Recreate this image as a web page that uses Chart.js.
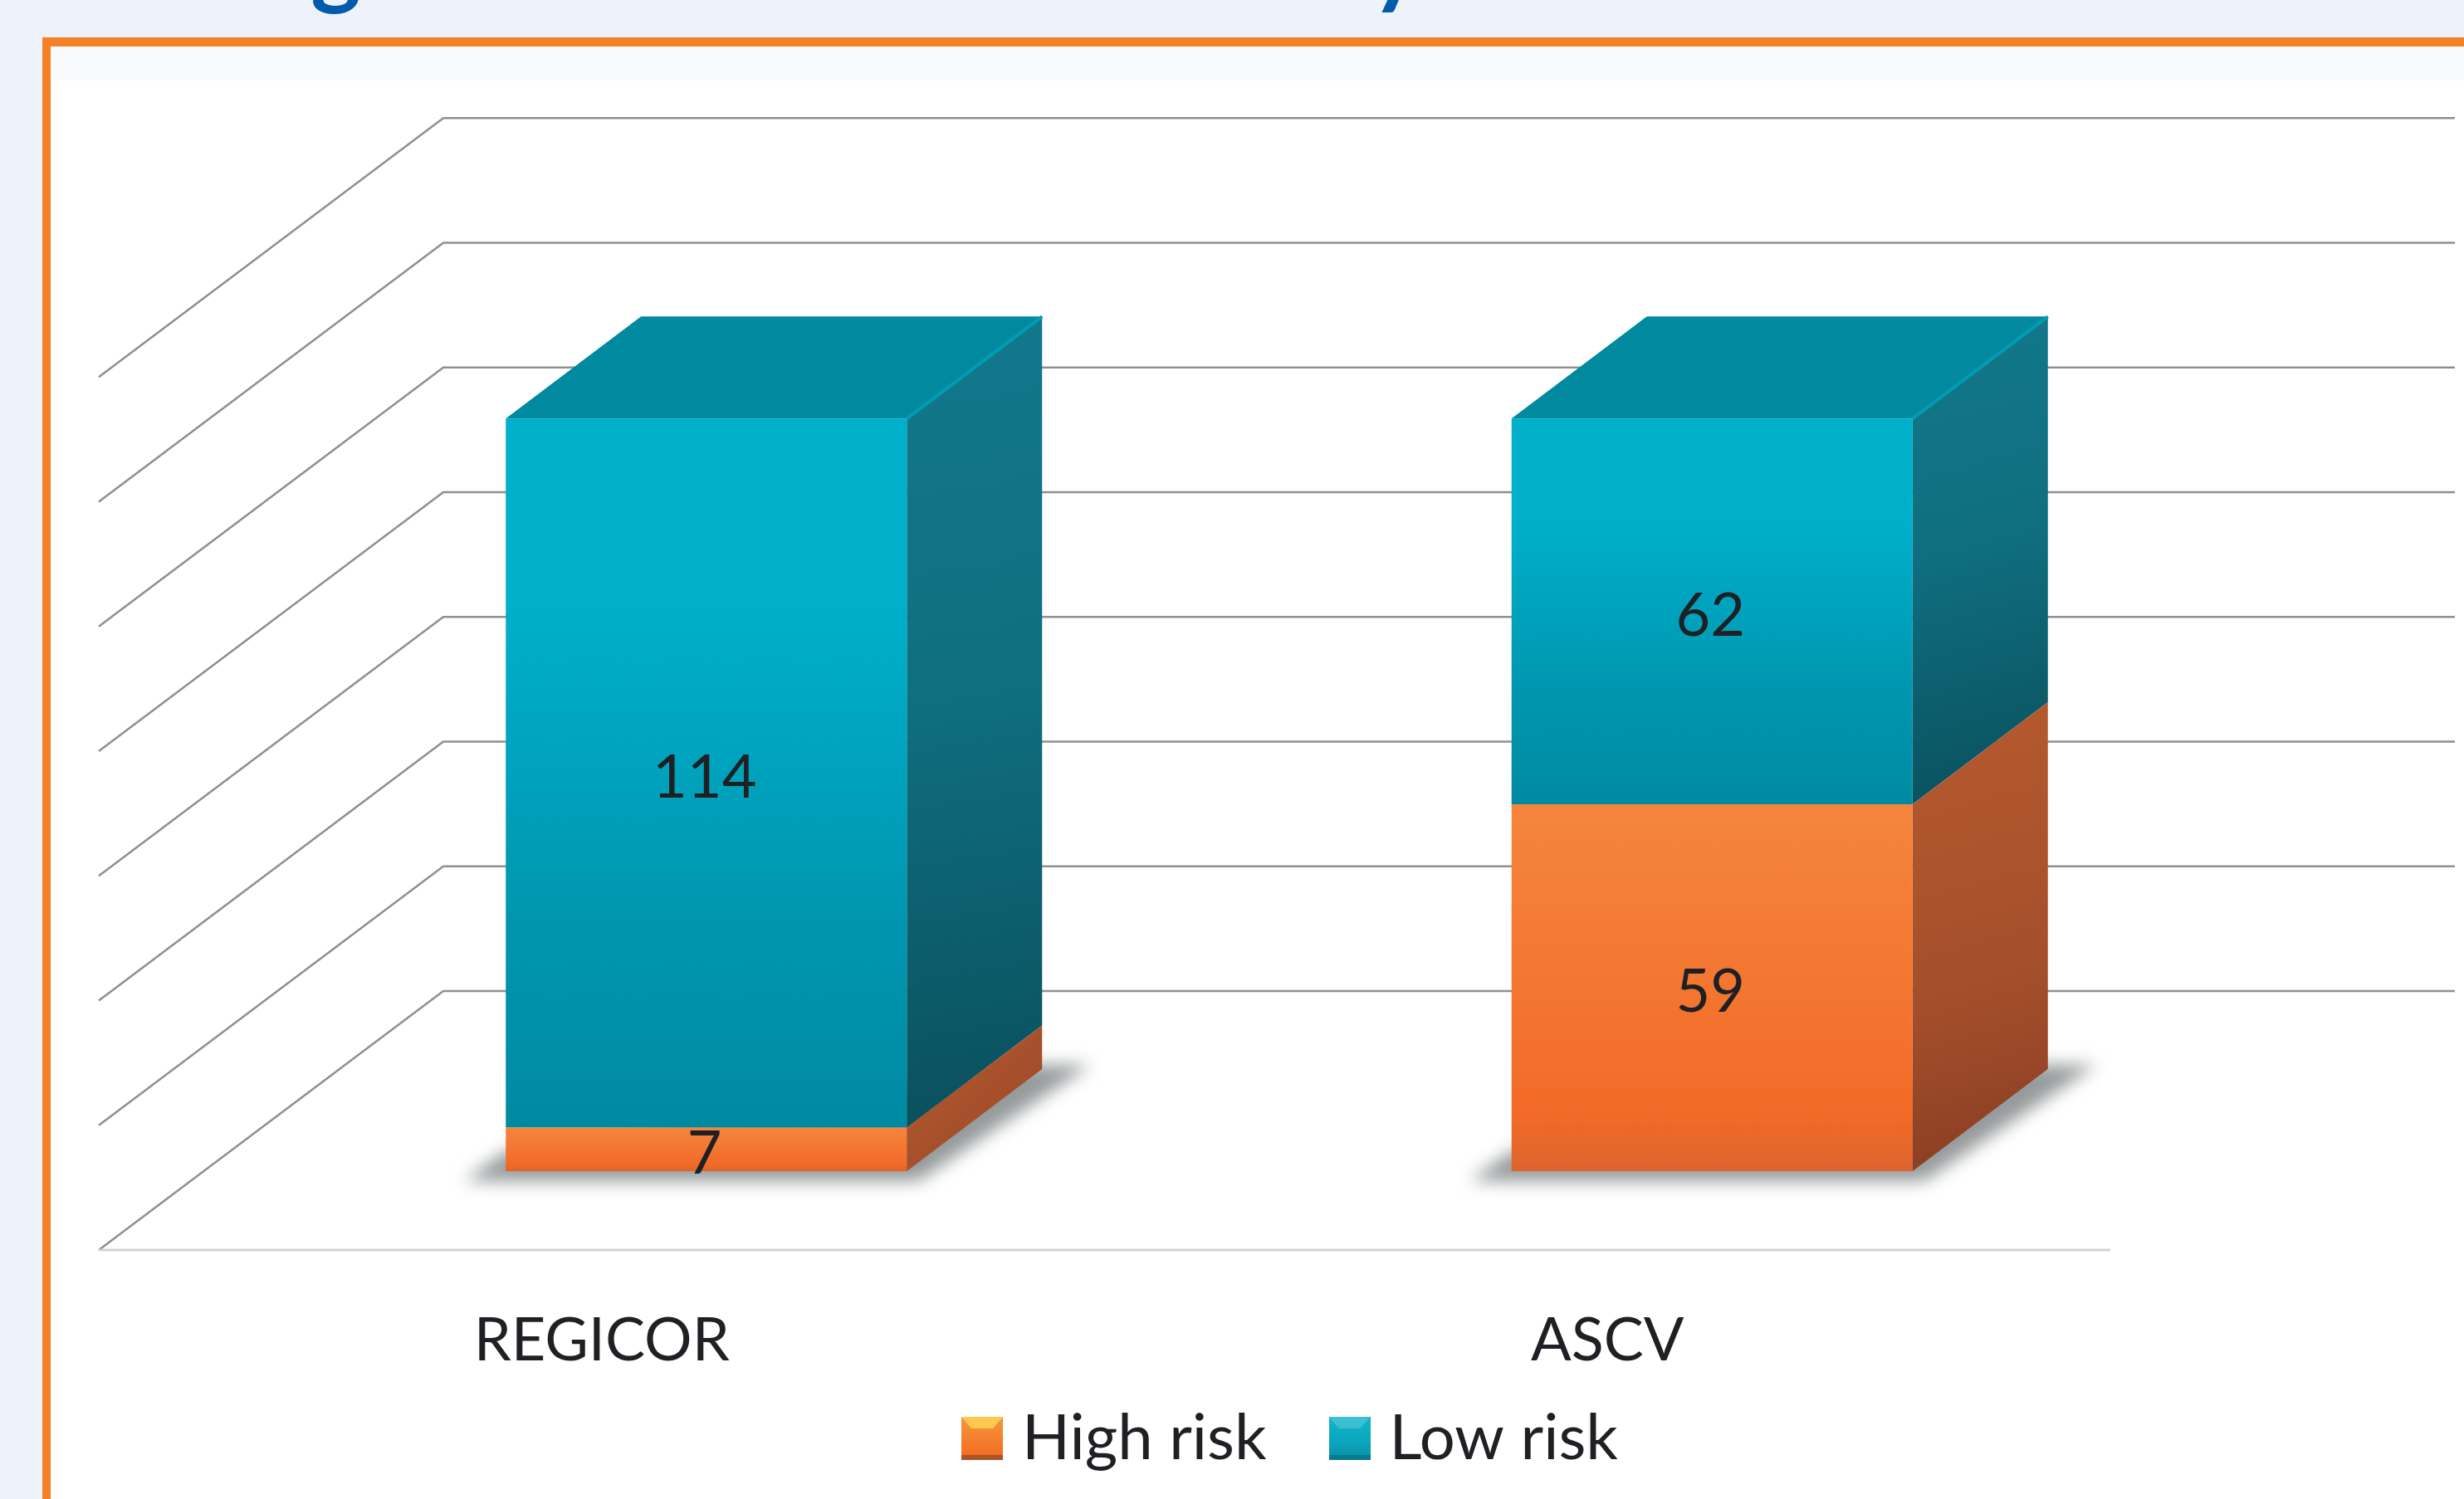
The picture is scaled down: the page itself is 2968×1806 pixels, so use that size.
<!DOCTYPE html>
<html>
<head>
<meta charset="utf-8">
<style>
html,body{margin:0;padding:0;width:2968px;height:1806px;overflow:hidden;background:#eef2fa;}
#title{position:absolute;left:280px;top:-118px;font:700 115px Lato,sans-serif;color:#005bac;white-space:nowrap;letter-spacing:0;}
#frame{position:absolute;left:51px;top:45px;width:2960px;height:1800px;box-sizing:border-box;border-left:10px solid #f58025;border-top:11px solid #f58025;background:#fff;}
#band{position:absolute;left:61px;top:56px;width:2907px;height:41px;background:#f7f9fc;}
canvas{position:absolute;left:0;top:0;}
</style>
<script src="https://cdn.jsdelivr.net/npm/chart.js@4/dist/chart.umd.js"></script>
</head>
<body>
<div id="title">Figure 1. Risk score of study.</div>
<div id="frame"></div>
<div id="band"></div>
<canvas id="c" width="2968" height="1806"></canvas>
<script>
const categories = ['REGICOR', 'ASCV'];
const highRisk = [7, 59];
const lowRisk = [114, 62];
const seriesNames = ['High risk', 'Low risk'];
const tickStep = 20;
const axisMax = 140;

const FONT = 'Lato, sans-serif';
const depthX = 163, depthY = 123;         // bar depth
const wallX = 415, wallY = 312;           // side wall depth
const backLift = 217;                     // back wall above bar base
const backStretch = 150.4 / 150;

function faceGradient(ctx, top, bottom, stops) {
  const g = ctx.createLinearGradient(0, top, 0, bottom);
  stops.forEach(s => g.addColorStop(s[0], s[1]));
  return g;
}
const orangeStops = [[0, '#f5853e'], [0.55, '#f3742f'], [0.85, '#f26a27'], [1, '#dc6430']];
const tealStops = [[0, '#00afca'], [0.25, '#00b0cb'], [0.7, '#0096b0'], [1, '#008aa2']];

function barFill(stops, valuesBelow, values) {
  return function (c) {
    const s = c.chart.scales.y;
    if (!s || c.dataIndex === undefined) return stops[0][1];
    const b = valuesBelow ? valuesBelow[c.dataIndex] : 0;
    const t = s.getPixelForValue(b + values[c.dataIndex]), e = s.getPixelForValue(b);
    if (!Number.isFinite(t) || !Number.isFinite(e)) return stops[0][1];
    return faceGradient(c.chart.ctx, t, e, stops);
  };
}

function swatch(stops, light, dark) {
  const cv = document.createElement('canvas');
  cv.width = 50; cv.height = 52;
  const x = cv.getContext('2d');
  x.fillStyle = faceGradient(x, 0, 52, stops); x.fillRect(0, 0, 50, 52);
  x.fillStyle = light;
  x.beginPath(); x.moveTo(0, 0); x.lineTo(50, 0); x.lineTo(38, 14); x.lineTo(12, 14); x.fill();
  x.fillStyle = dark; x.fillRect(0, 46, 50, 6);
  return cv;
}
const swatches = [
  swatch([[0, '#f8963c'], [1, '#f16a22']], 'rgba(255,220,90,0.75)', '#a8552a'),
  swatch([[0, '#12b6cc'], [0.6, '#0aa5bd'], [1, '#0a8ea6']], 'rgba(90,200,215,0.6)', '#067a8c')
];

const depthPlugin = {
  id: 'depth',
  afterLayout(chart) {
    const lg = chart.legend;
    const dx = 1561 - (lg.left + lg.right) / 2;
    lg.left += dx; lg.right += dx;
    const h = lg.bottom - lg.top;
    lg.top = 1733 - 38 - lg.options.labels.padding;
    lg.bottom = lg.top + h;
  },
  beforeDatasetsDraw(chart) {
    const { ctx, scales: { y } } = chart;
    const base = y.getPixelForValue(0);
    const backLeft = 534, backRight = 2957;
    ctx.save();
    // grid on the back and left walls
    ctx.strokeStyle = '#8e9090';
    ctx.lineWidth = 2.6;
    y.ticks.forEach(t => {
      const by = base - backLift - (base - y.getPixelForValue(t.value)) * backStretch;
      ctx.beginPath();
      ctx.moveTo(backLeft - wallX, by + wallY);
      ctx.lineTo(backLeft, by);
      ctx.lineTo(backRight, by);
      ctx.stroke();
    });
    // floor front edge
    ctx.strokeStyle = '#d2d3d3';
    ctx.lineWidth = 3;
    ctx.beginPath();
    ctx.moveTo(backLeft - wallX, base + 95);
    ctx.lineTo(2542, base + 95);
    ctx.stroke();

    const low = chart.getDatasetMeta(1).data;
    const high = chart.getDatasetMeta(0).data;
    low.forEach((topEl, i) => {
      const L = topEl.x - topEl.width / 2, R = topEl.x + topEl.width / 2;
      const hEl = high[i];
      const yTop = topEl.y, yMid = hEl.y, yBase = hEl.base;
      // floor shadow
      ctx.save();
      ctx.filter = 'blur(10px)';
      ctx.fillStyle = '#959a9b';
      ctx.beginPath();
      ctx.moveTo(L - 50, yBase + 12);
      ctx.lineTo(R + 14, yBase + 12);
      ctx.lineTo(R + depthX + 58, yBase - depthY - 5);
      ctx.lineTo(R + depthX - 10, yBase - depthY - 5);
      ctx.lineTo(L, yBase - 24);
      ctx.closePath();
      ctx.fill();
      ctx.restore();
      // right faces
      const sideLow = ctx.createLinearGradient(R, yTop - depthY, R + depthX, yMid);
      sideLow.addColorStop(0, '#12788c'); sideLow.addColorStop(0.45, '#0f6f80'); sideLow.addColorStop(1, '#0a4f5c');
      ctx.fillStyle = sideLow;
      ctx.beginPath();
      ctx.moveTo(R, yTop); ctx.lineTo(R + depthX, yTop - depthY);
      ctx.lineTo(R + depthX, yMid - depthY); ctx.lineTo(R, yMid); ctx.closePath(); ctx.fill();
      const sideHigh = ctx.createLinearGradient(R, yMid - depthY, R + depthX, yBase);
      sideHigh.addColorStop(0, '#b65a2f'); sideHigh.addColorStop(0.6, '#a44f2b'); sideHigh.addColorStop(1, '#883c22');
      ctx.fillStyle = sideHigh;
      ctx.beginPath();
      ctx.moveTo(R, yMid); ctx.lineTo(R + depthX, yMid - depthY);
      ctx.lineTo(R + depthX, yBase - depthY); ctx.lineTo(R, yBase); ctx.closePath(); ctx.fill();
      // top face
      ctx.fillStyle = '#00899f';
      ctx.beginPath();
      ctx.moveTo(L, yTop); ctx.lineTo(L + depthX, yTop - depthY);
      ctx.lineTo(R + depthX, yTop - depthY); ctx.lineTo(R, yTop); ctx.closePath(); ctx.fill();
      ctx.strokeStyle = '#019bb2';
      ctx.lineWidth = 4;
      ctx.beginPath(); ctx.moveTo(R, yTop); ctx.lineTo(R + depthX, yTop - depthY); ctx.stroke();
    });
    ctx.restore();
  },
  afterDatasetsDraw(chart) {
    const { ctx } = chart;
    ctx.save();
    ctx.font = '72px ' + FONT;
    ctx.fillStyle = '#1e2024';
    ctx.textAlign = 'center';
    ctx.textBaseline = 'middle';
    chart.data.datasets.forEach((ds, d) => {
      chart.getDatasetMeta(d).data.forEach((el, i) => {
        ctx.fillText(String(ds.data[i]), el.x - 2, (el.y + el.base) / 2 + 6);
      });
    });
    ctx.restore();
  }
};

new Chart(document.getElementById('c'), {
  type: 'bar',
  data: {
    labels: categories,
    datasets: [
      { label: seriesNames[0], data: highRisk, backgroundColor: barFill(orangeStops, null, highRisk), borderWidth: 0 },
      { label: seriesNames[1], data: lowRisk, backgroundColor: barFill(tealStops, highRisk, lowRisk), borderWidth: 0 }
    ]
  },
  options: {
    responsive: false,
    devicePixelRatio: 1,
    animation: false,
    layout: { padding: { left: 245, right: 300, top: 362, bottom: -51 } },
    datasets: { bar: { categoryPercentage: 1, barPercentage: 0.3987 } },
    scales: {
      x: {
        stacked: true,
        grid: { display: false, drawTicks: false },
        border: { display: false },
        ticks: { color: '#1e2024', font: { family: FONT, size: 72 }, padding: 162, labelOffset: -126, maxRotation: 0 },
        afterFit(s) { s.height = 270; }
      },
      y: {
        stacked: true,
        display: false,
        min: 0, max: axisMax,
        ticks: { stepSize: tickStep }
      }
    },
    plugins: {
      title: { display: false },
      tooltip: { enabled: false },
      legend: {
        position: 'bottom',
        labels: {
          color: '#1e2024',
          font: { family: FONT, size: 76 },
          usePointStyle: true,
          pointStyleWidth: 20,
          boxHeight: 52,
          padding: 90,
          generateLabels(chart) {
            return Chart.defaults.plugins.legend.labels.generateLabels(chart).map((l, i) => {
              l.pointStyle = swatches[i];
              return l;
            });
          }
        }
      }
    }
  },
  plugins: [depthPlugin]
});
</script>
</body>
</html>
